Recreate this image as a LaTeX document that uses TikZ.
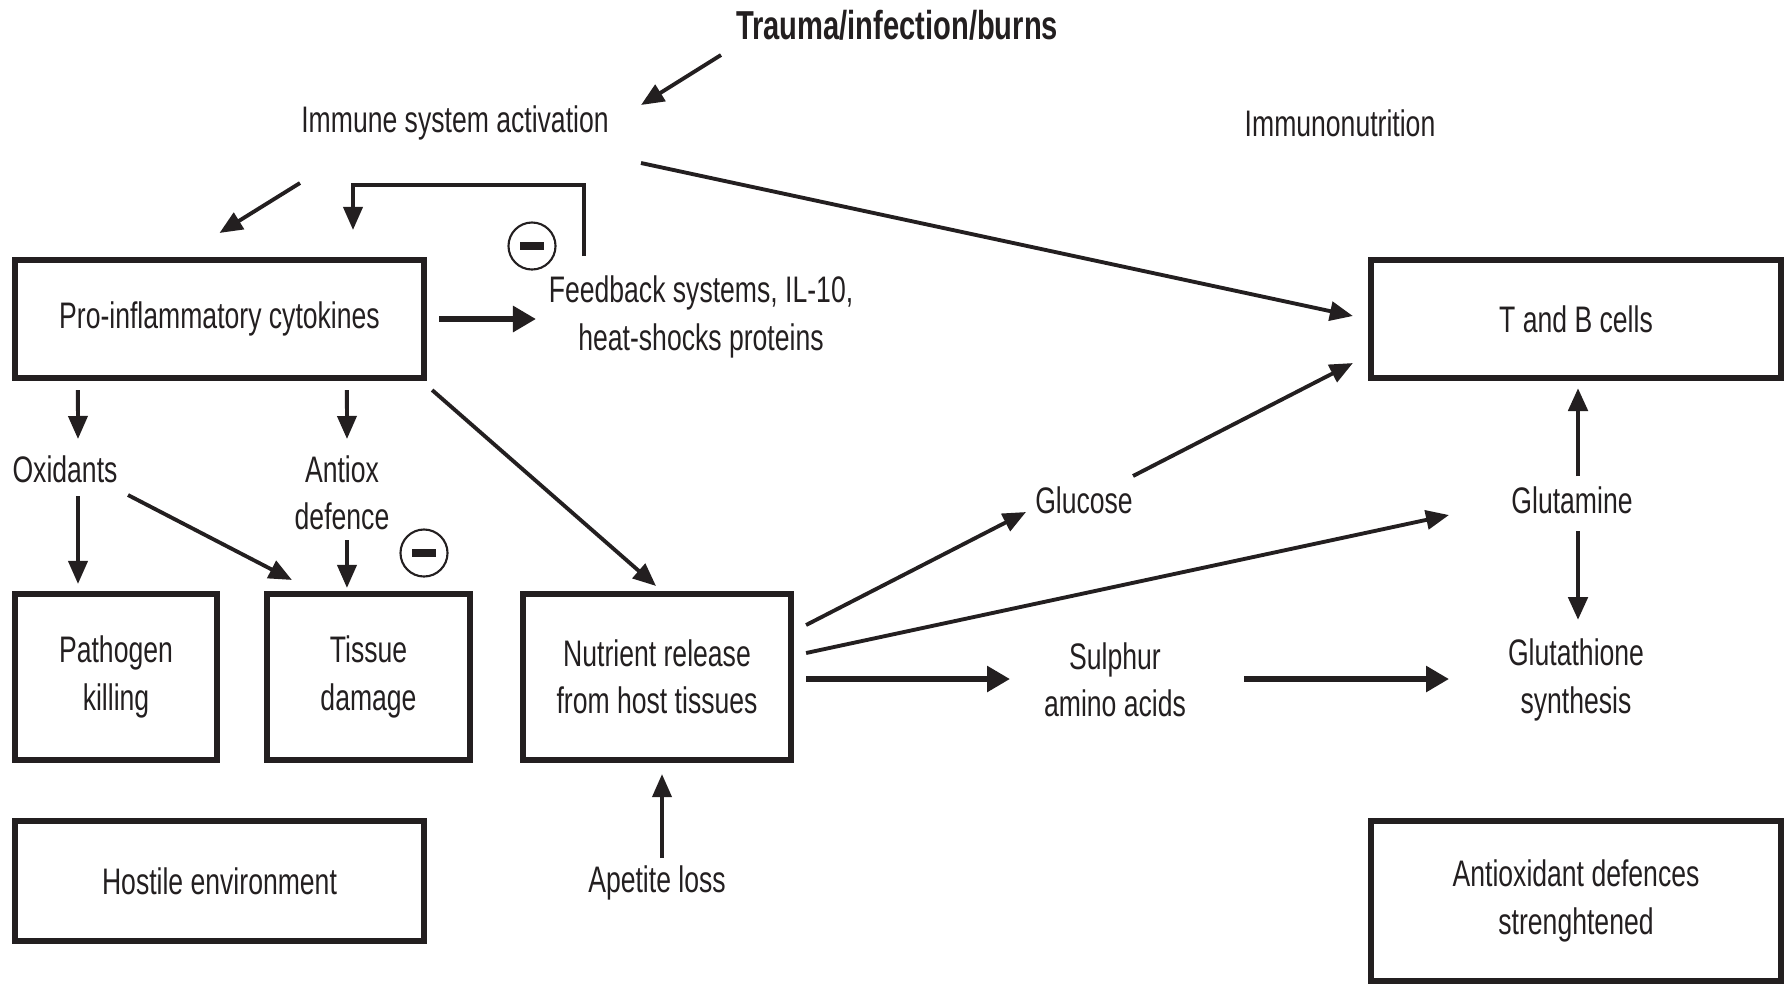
\documentclass[tikz,border=0pt]{standalone}
\usepackage{fontspec}
\setmainfont[FakeStretch=0.72]{Liberation Sans}
\usepackage{tikz}
\usetikzlibrary{arrows.meta,calc}
\definecolor{ink}{HTML}{231F20}
\tikzset{
  lbl/.style={font=\fontsize{10.5}{13.5}\selectfont, text=ink, align=center, inner sep=0pt},
  head/.style={lbl, font=\fontsize{11.5}{13.5}\selectfont\bfseries},
  box/.style={draw=ink, line width=1.7pt, outer sep=0pt, lbl},
  flow/.style={-{Triangle[length=2.3mm,width=1.9mm]}, line width=1.1pt, color=ink},
  bigflow/.style={-{Triangle[length=2.3mm,width=2.5mm]}, line width=1.9pt, color=ink},
  % the inhibition mark
  negmark/.style={circle, draw=ink, line width=0.6pt, minimum size=0.47cm, inner sep=0pt,
    path picture={\fill[ink] ([shift={(-12,-4)}]path picture bounding box.center)
      rectangle ([shift={(12,4)}]path picture bounding box.center);}},
}
\begin{document}
\begin{tikzpicture}[x=0.01cm,y=-0.01cm]
  \useasboundingbox (0,0) rectangle (1789,984);
  % top line
  \node[head] (trauma) at (897,25) {Trauma/infection/burns};
  \node[lbl] (immune) at (455,123) {Immune system activation};
  \node[lbl] (immuno) at (1340,123) {Immunonutrition};
  % boxes
  \node[box, minimum width=4.09cm, minimum height=1.18cm] (pro) at (219.5,319) {Pro-inflammatory cytokines};
  \node[box, minimum width=4.10cm, minimum height=1.18cm] (tb) at (1576,319) {T and B cells};
  \node[box, minimum width=2.02cm, minimum height=1.66cm] (path) at (116,677) {Pathogen\\killing};
  \node[box, minimum width=2.03cm, minimum height=1.66cm] (tissue) at (368.5,677) {Tissue\\damage};
  \node[box, minimum width=2.68cm, minimum height=1.66cm] (nutr) at (657,677) {Nutrient release\\from host tissues};
  \node[box, minimum width=4.09cm, minimum height=1.20cm] (host) at (219.5,881) {Hostile environment};
  \node[box, minimum width=4.10cm, minimum height=1.60cm] (antibox) at (1576,901) {Antioxidant defences\\strenghtened};
  % free labels
  \node[lbl] (feed) at (701,317) {Feedback systems, IL-10,\\heat-shocks proteins};
  \node[lbl] (oxid) at (65,469) {Oxidants};
  \node[lbl] (antiox) at (342,493) {Antiox\\defence};
  \node[lbl] (apetite) at (657,883) {Apetite loss};
  \node[lbl] (glucose) at (1084,500) {Glucose};
  \node[lbl] (sulphur) at (1115,680) {Sulphur\\amino acids};
  \node[lbl] (glutamine) at (1572,500) {Glutamine};
  \node[lbl] (glutath) at (1576,680) {Glutathione\\synthesis};
  \node[negmark] (neg1) at (532,246) {};
  \node[negmark] (neg2) at (424,553) {};
  % connectors
  \draw[flow] ([shift={(-176,30)}]trauma.center) -- ([shift={(186,-18)}]immune.center);
  \draw[flow] ([shift={(186,40)}]immune.center) -- ([shift={(-18,-3)}]tb.west);
  \draw[flow] ([shift={(-155,60)}]immune.center) -- ([shift={(0,-27)}]pro.north);
  \draw[flow] ([shift={(-117,-61)}]feed.center) |- ([shift={(133.5,-75)}]pro.north)
    -- ([shift={(133.5,-30)}]pro.north);
  \draw[bigflow] ([shift={(15,0)}]pro.east) -- ([shift={(-165,2)}]feed.center);
  \draw[flow] ([shift={(63,12)}]pro.south west) -- ([shift={(13,-30)}]oxid.center);
  \draw[flow] ([shift={(332,12)}]pro.south west) -- ([shift={(5,-54)}]antiox.center);
  \draw[flow] ([shift={(8,12)}]pro.south east) -- ([shift={(-1,-8)}]nutr.north);
  \draw[flow] ([shift={(13,27)}]oxid.center) -- ([shift={(-38,-10)}]path.north);
  \draw[flow] ([shift={(63,26)}]oxid.center) -- ([shift={(25,-14)}]tissue.north west);
  \draw[flow] ([shift={(5,47)}]antiox.center) -- ([shift={(80,-6)}]tissue.north west);
  \draw[flow] ([shift={(5,-25)}]apetite.center) -- ([shift={(5,14)}]nutr.south);
  \draw[flow] ([shift={(15,-52)}]nutr.east) -- ([shift={(-58,12)}]glucose.center);
  \draw[flow] ([shift={(49,-24)}]glucose.center) -- ([shift={(-18,-15)}]tb.south west);
  \draw[flow] ([shift={(15,-24)}]nutr.east) -- ([shift={(-123,15)}]glutamine.center);
  \draw[bigflow] ([shift={(15,2)}]nutr.east) -- ([shift={(-105,-1)}]sulphur.center);
  \draw[bigflow] ([shift={(129,-1)}]sulphur.center) -- ([shift={(-127,-1)}]glutath.center);
  \draw[flow, line width=1.4pt] ([shift={(6,-24)}]glutamine.center) -- ([shift={(2,10)}]tb.south);
  \draw[flow, line width=1.4pt] ([shift={(6,31)}]glutamine.center) -- ([shift={(2,-60)}]glutath.center);
\end{tikzpicture}
\end{document}
